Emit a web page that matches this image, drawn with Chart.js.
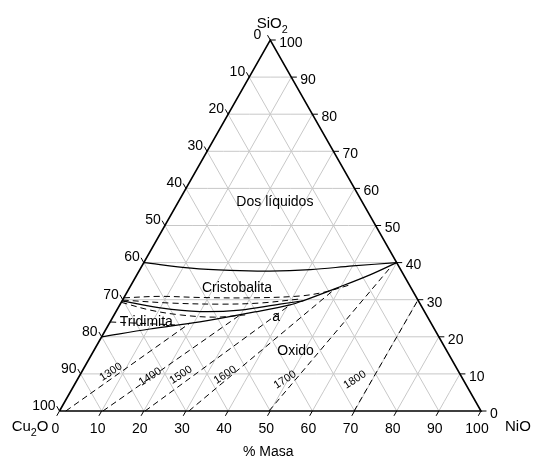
<!DOCTYPE html>
<html>
<head>
<meta charset="utf-8">
<script src="https://cdn.jsdelivr.net/npm/chart.js@4.4.1/dist/chart.umd.min.js"></script>
<style>
  html, body { margin: 0; padding: 0; background: #fff; }
  #wrap { position: relative; width: 533px; height: 459px; }
</style>
</head>
<body>
<div id="wrap"><canvas id="ternario"></canvas></div>
<script>
// Composiciones en % masa: NiO y SiO2 (Cu2O = 100 - NiO - SiO2)
const tickValues = [0, 10, 20, 30, 40, 50, 60, 70, 80, 90, 100];
const tickLabels = ['0', '10', '20', '30', '40', '50', '60', '70', '80', '90', '100'];

// limite de la zona de dos liquidos
const liquidosNiO  = [0, 12, 21.5, 31, 40.5, 50, 60];
const liquidosSiO2 = [40, 38.5, 37.9, 37.7, 38.1, 39.1, 40];

// limite inferior tridimita / oxido
const oxidoNiO  = [0, 10.4, 21.3, 33.0, 40.4, 42.9, 49.3, 55.3, 60];
const oxidoSiO2 = [20, 22.1, 24.0, 26.7, 28.6, 29.7, 33.2, 36.7, 40];

// limite cristobalita / tridimita
const tridimitaNiO  = [0, 10, 19.9, 29.2, 37.9, 42.9];
const tridimitaSiO2 = [29.7, 27.8, 26.8, 27.2, 28.8, 29.7];

// lineas discontinuas en la zona de cristobalita / tridimita
const trazo1NiO  = [0, 8.4, 18, 30, 41.6, 47, 51.9];
const trazo1SiO2 = [30.5, 30.9, 30.6, 30.5, 31, 32.1, 34];
const trazo2NiO  = [0, 11.7, 23.7, 33, 42];
const trazo2SiO2 = [29.9, 29.1, 28.8, 29.1, 30.2];
const trazo3NiO  = [0, 7.9, 15.7, 24.2, 31.1];
const trazo3SiO2 = [29.3, 27.2, 25.9, 25.3, 25.9];
const trazo4NiO  = [0, 15.8];
const trazo4SiO2 = [24, 23.2];

// isotermas (inicio en la base, fin en el limite del oxido)
const isoLabels   = ['1300', '1400', '1500', '1600', '1700', '1800'];
const isoStartNiO = [1.5, 10.3, 20.3, 30.7, 49.7, 69.9];
const isoEndNiO   = [19.1, 29.9, 40.4, 48.9, 59.1, 70.1];
const isoEndSiO2  = [23.7, 25.9, 28.6, 32.9, 38.5, 29.9];

const regionLabels = ['Dos líquidos', 'Cristobalita', 'Tridimita', 'a', 'Oxido'];

// posiciones de los textos (coordenadas del grafico)
const regionPos = [[51.1, 56.3], [42.1, 33.2], [20.6, 23.9], [51.4, 25.3], [56, 16.2]];
const isoPos = [[12.2, 10.5], [21.5, 9.2], [28.8, 9.7], [39.3, 9.7], [53.5, 8.4], [70.1, 8.4]];

const FONT = '"Liberation Sans", Arial, Helvetica, sans-serif';

function toXY(nio, sio2) {
    return { x: nio + sio2 / 2, y: sio2 };
}

function serie(nio, sio2, color, width, dash, order) {
    return {
        data: nio.map((b, i) => toXY(b, sio2[i])),
        showLine: true,
        borderColor: color,
        borderWidth: width,
        borderDash: dash || [],
        pointRadius: 0,
        tension: 0.35,
        clip: false,
        order: order || 0
    };
}

const datasets = [];

// rejilla gris
tickValues.slice(1, -1).forEach(v => {
    datasets.push(serie([0, 100 - v], [v, v], '#c8c8c8', 1, null, 5));
    datasets.push(serie([v, v], [0, 100 - v], '#c8c8c8', 1, null, 5));
    datasets.push(serie([100 - v, 0], [0, 100 - v], '#c8c8c8', 1, null, 5));
});

// marcas de los ejes
const d = 1.3;
tickValues.forEach(v => {
    datasets.push(serie([0, -d], [100 - v, 100 - v + d], '#000', 1, null, 1));
    datasets.push(serie([100 - v, 100 - v + d], [v, v], '#000', 1, null, 1));
    datasets.push(serie([v, v], [0, -d], '#000', 1, null, 1));
});

// triangulo
const borde = serie([0, 100, 0, 0], [0, 0, 100, 0], '#000', 1.6, null, 1);
borde.tension = 0;
datasets.push(borde);

// fronteras de fase
datasets.push(serie(liquidosNiO, liquidosSiO2, '#000', 1.2));
datasets.push(serie(oxidoNiO, oxidoSiO2, '#000', 1.2));
datasets.push(serie(tridimitaNiO, tridimitaSiO2, '#000', 1.2));
datasets.push(serie(trazo1NiO, trazo1SiO2, '#000', 1, [6, 4]));
datasets.push(serie(trazo2NiO, trazo2SiO2, '#000', 1, [6, 4]));
datasets.push(serie(trazo3NiO, trazo3SiO2, '#000', 1, [6, 4]));
datasets.push(serie(trazo4NiO, trazo4SiO2, '#000', 1, [6, 4]));

isoLabels.forEach((t, i) => {
    const s = serie([isoStartNiO[i], isoEndNiO[i]], [0, isoEndSiO2[i]], '#000', 1, [6, 4]);
    s.tension = 0;
    datasets.push(s);
});

function formula(ctx, parts, x, y, align, size) {
    // parts: [['Cu', false], ['2', true], ['O', false]]
    let total = 0;
    parts.forEach(p => {
        ctx.font = (p[1] ? size * 0.72 : size) + 'px ' + FONT;
        total += ctx.measureText(p[0]).width;
    });
    let cx = align === 'right' ? x - total : (align === 'center' ? x - total / 2 : x);
    ctx.textAlign = 'left';
    parts.forEach(p => {
        ctx.font = (p[1] ? size * 0.72 : size) + 'px ' + FONT;
        ctx.fillText(p[0], cx, p[1] ? y + size * 0.3 : y);
        cx += ctx.measureText(p[0]).width;
    });
}

const textos = {
    id: 'textos',
    afterDatasetsDraw(chart) {
        const ctx = chart.ctx;
        const sx = chart.scales.x, sy = chart.scales.y;
        const px = (b, c) => sx.getPixelForValue(b + c / 2);
        const py = (b, c) => sy.getPixelForValue(c);
        ctx.save();
        ctx.fillStyle = '#000';
        ctx.textBaseline = 'middle';

        // numeros de los ejes
        ctx.font = '14px ' + FONT;
        tickValues.forEach((v, i) => {
            // izquierdo: Cu2O
            ctx.textAlign = 'right';
            ctx.fillText(tickLabels[i], px(0, 100 - v) - (v === 0 ? 9 : 4), py(0, 100 - v) - 5);
            // derecho: SiO2
            ctx.textAlign = 'left';
            ctx.fillText(tickLabels[i], px(100 - v, v) + 9, py(100 - v, v) + 3);
            // base: NiO
            ctx.textAlign = 'center';
            ctx.fillText(tickLabels[i], px(v, 0) - 4, py(v, 0) + 18);
        });

        // titulos
        ctx.textBaseline = 'alphabetic';
        formula(ctx, [['SiO', false], ['2', true]], px(0, 100) + 2, py(0, 100) - 12, 'center', 15);
        formula(ctx, [['Cu', false], ['2', true], ['O', false]], px(0, 0) - 11, py(0, 0) + 20, 'right', 15);
        formula(ctx, [['NiO', false]], px(100, 0) + 24, py(100, 0) + 20, 'left', 15);
        ctx.font = '14px ' + FONT;
        ctx.textAlign = 'center';
        ctx.fillText('% Masa', px(50, 0) - 2, py(50, 0) + 45);

        // regiones
        ctx.textBaseline = 'middle';
        ctx.font = '14px ' + FONT;
        regionLabels.forEach((t, i) => {
            ctx.fillText(t, sx.getPixelForValue(regionPos[i][0]), sy.getPixelForValue(regionPos[i][1]));
        });

        // isotermas
        ctx.font = '11px ' + FONT;
        isoLabels.forEach((t, i) => {
            ctx.save();
            ctx.translate(sx.getPixelForValue(isoPos[i][0]), sy.getPixelForValue(isoPos[i][1]));
            ctx.rotate(-33 * Math.PI / 180);
            ctx.fillText(t, 0, 0);
            ctx.restore();
        });
        ctx.restore();
    }
};

new Chart(document.getElementById('ternario'), {
    type: 'scatter',
    data: { datasets: datasets },
    options: {
        responsive: true,
        maintainAspectRatio: false,
        animation: false,
        layout: { padding: { left: 59.5, right: 52, top: 40, bottom: 48 } },
        scales: {
            x: { type: 'linear', min: 0, max: 100, display: false },
            y: { type: 'linear', min: 0, max: 100, display: false }
        },
        plugins: {
            legend: { display: false },
            tooltip: { enabled: false }
        }
    },
    plugins: [textos]
});
</script>
</body>
</html>
